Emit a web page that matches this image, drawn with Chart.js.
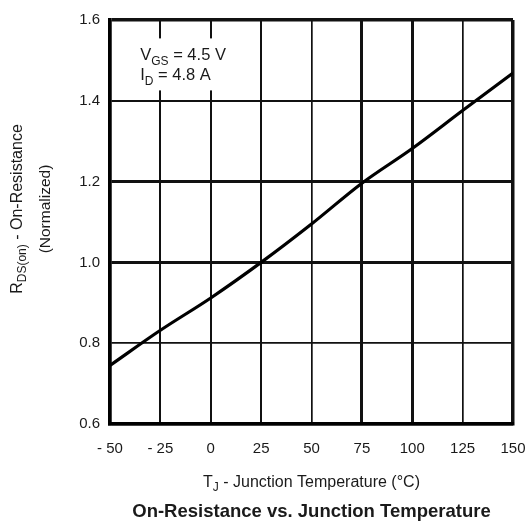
<!DOCTYPE html>
<html lang="en">
<head>
  <meta charset="UTF-8">
  <title>On-Resistance vs. Junction Temperature</title>
  <script src="https://cdn.jsdelivr.net/npm/chart.js"></script>
  <style>
    html, body { margin: 0; padding: 0; background: #fff; }
    #wrap { width: 529px; height: 524px; }
  </style>
</head>
<body>
  <div id="wrap"><canvas id="myChart" width="529" height="524"></canvas></div>

  <script>
    // data
    const temps = [-50, -25, 0, 25, 50, 75, 100, 125, 150];
    const rdsOn = [0.745, 0.832, 0.912, 1.0, 1.095, 1.196, 1.282, 1.376, 1.469];
    const xTicks = [-50, -25, 0, 25, 50, 75, 100, 125, 150];
    const yTicks = [0.6, 0.8, 1.0, 1.2, 1.4, 1.6];

    const FONT = '"Liberation Sans", Arial, Helvetica, sans-serif';
    const INK = '#1a1a1a';

    // text with subscripts, parts = [[text, isSub], ...]
    function drawRich(ctx, parts, x, y, size, align, weight) {
      const subSize = Math.round(size * 0.72);
      const w = parts.map(p => {
        ctx.font = (weight || '') + ' ' + (p[1] ? subSize : size) + 'px ' + FONT;
        return ctx.measureText(p[0]).width;
      });
      const total = w.reduce((a, b) => a + b, 0);
      let cx = align === 'center' ? x - total / 2 : x;
      parts.forEach((p, i) => {
        ctx.font = (weight || '') + ' ' + (p[1] ? subSize : size) + 'px ' + FONT;
        ctx.fillText(p[0], cx, p[1] ? y + size * 0.3 : y);
        cx += w[i];
      });
      return total;
    }

    const labelsPlugin = {
      id: 'labels',
      afterDraw(chart) {
        const ctx = chart.ctx;
        const area = chart.chartArea;
        const xs = chart.scales.x, ys = chart.scales.y;
        ctx.save();
        ctx.textBaseline = 'alphabetic';
        ctx.textAlign = 'left';

        // conditions box
        const ax = xs.getPixelForValue(-35);
        const ay = ys.getPixelForValue(1.5);
        ctx.fillStyle = '#fff';
        ctx.fillRect(ax - 10, ay - 22, 112, 52);
        ctx.fillStyle = INK;
        drawRich(ctx, [['V', false], ['GS', true], [' = 4.5 V', false]], ax, ay, 16.5, 'left');
        drawRich(ctx, [['I', false], ['D', true], [' = 4.8 A', false]], ax, ay + 20, 16.5, 'left');

        // x axis title
        const midX = (area.left + area.right) / 2;
        ctx.textBaseline = 'middle';
        drawRich(ctx, [['T', false], ['J', true], [' - Junction Temperature (°C)', false]], midX, 483, 16, 'center');

        // chart title
        drawRich(ctx, [['On-Resistance vs. Junction Temperature', false]], midX, 512, 18.5, 'center', 'bold');

        // y axis title (two lines, rotated)
        const midY = (area.top + area.bottom) / 2;
        ctx.translate(18, midY - 13);
        ctx.rotate(-Math.PI / 2);
        drawRich(ctx, [['R', false], ['DS(on)', true], [' - On-Resistance', false]], 0, 0, 16, 'center');
        ctx.translate(0, 28);
        drawRich(ctx, [['(Normalized)', false]], 0, 0, 15.5, 'center');
        ctx.restore();
      }
    };

    function xGridWidth(c) {
      const v = c.tick ? c.tick.value : null;
      if (v === -50 || v === 150) return 3.5;
      if (v === 75 || v === 100) return 3;
      if (v === 50 || v === 125) return 1.7;
      return 2;
    }
    function yGridWidth(c) {
      const v = c.tick ? Math.round(c.tick.value * 10) / 10 : null;
      if (v === 0.6 || v === 1.6) return 3.5;
      if (v === 1.0 || v === 1.2) return 3;
      if (v === 1.4) return 2;
      return 1.7;
    }

    const ctx = document.getElementById('myChart').getContext('2d');
    const myChart = new Chart(ctx, {
      type: 'line',
      data: {
        labels: temps,
        datasets: [{
          label: 'RDS(on)',
          data: temps.map((t, i) => ({ x: t, y: rdsOn[i] })),
          borderColor: '#000',
          borderWidth: 3.2,
          pointRadius: 0,
          cubicInterpolationMode: 'monotone',
          fill: false
        }]
      },
      options: {
        responsive: false,
        animation: false,
        layout: { padding: { top: 20, right: 16, left: 0, bottom: 0 } },
        plugins: {
          legend: { display: false },
          title: { display: false },
          tooltip: { enabled: false }
        },
        scales: {
          x: {
            type: 'linear',
            min: -50,
            max: 150,
            afterBuildTicks: s => { s.ticks = xTicks.map(v => ({ value: v })); },
            afterFit: s => { s.height = 100; s.paddingLeft = 0; s.paddingRight = 0; },
            ticks: {
              color: INK,
              font: { family: FONT, size: 15 },
              padding: 16,
              maxRotation: 0,
              callback: v => v < 0 ? '- ' + Math.abs(v) : String(v)
            },
            grid: { color: '#111', lineWidth: xGridWidth, drawTicks: false },
            border: { display: true, color: '#000', width: 3.5 }
          },
          y: {
            type: 'linear',
            min: 0.6,
            max: 1.6,
            afterBuildTicks: s => { s.ticks = yTicks.map(v => ({ value: v })); },
            afterFit: s => { s.width = 110; s.paddingTop = 0; s.paddingBottom = 0; },
            ticks: {
              color: INK,
              font: { family: FONT, size: 15 },
              padding: 10,
              callback: v => Number(v).toFixed(1)
            },
            grid: { color: '#111', lineWidth: yGridWidth, drawTicks: false },
            border: { display: true, color: '#000', width: 3.5 }
          }
        }
      },
      plugins: [labelsPlugin]
    });
  </script>
</body>
</html>
